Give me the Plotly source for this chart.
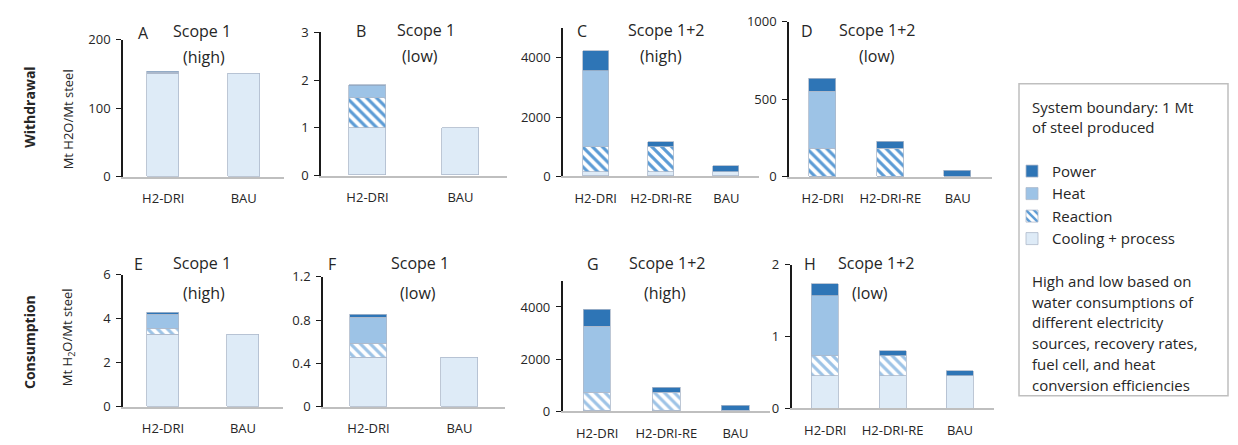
import plotly.graph_objects as go

W, H = 1238, 445

# ---------------- data ----------------
cats2 = ["H2-DRI", "BAU"]
cats3 = ["H2-DRI", "H2-DRI-RE", "BAU"]

# Withdrawal (Mt H2O / Mt steel)
A_cooling = [150.5, 150.5]; A_reaction = [0.6, 0]; A_heat = [1.2, 0]; A_power = [0.6, 0]
B_cooling = [1.0, 1.0];     B_reaction = [0.61, 0]; B_heat = [0.25, 0]; B_power = [0.03, 0]
C_cooling = [150, 150, 150]; C_reaction = [820, 820, 0]; C_heat = [2566, 0, 0]; C_power = [700, 170, 175]
D_cooling = [1, 1, 1];       D_reaction = [183, 183, 0]; D_heat = [366, 0, 0]; D_power = [85, 45, 40]
# Consumption
E_cooling = [3.29, 3.29];   E_reaction = [0.28, 0]; E_heat = [0.62, 0]; E_power = [0.09, 0]
F_cooling = [0.45, 0.455];  F_reaction = [0.13, 0]; F_heat = [0.245, 0]; F_power = [0.028, 0]
G_cooling = [3.3, 3.3, 3.3]; G_reaction = [709, 709, 0]; G_heat = [2509, 0, 0]; G_power = [676, 185, 193]
H_cooling = [0.45, 0.45, 0.45]; H_reaction = [0.276, 0.277, 0]; H_heat = [0.846, 0, 0]; H_power = [0.161, 0.08, 0.076]

series_names = ["Cooling + process", "Reaction", "Heat", "Power"]

panels = [
    ("A", "Scope 1", "(high)", cats2, [A_cooling, A_reaction, A_heat, A_power]),
    ("B", "Scope 1", "(low)", cats2, [B_cooling, B_reaction, B_heat, B_power]),
    ("C", "Scope 1+2", "(high)", cats3, [C_cooling, C_reaction, C_heat, C_power]),
    ("D", "Scope 1+2", "(low)", cats3, [D_cooling, D_reaction, D_heat, D_power]),
    ("E", "Scope 1", "(high)", cats2, [E_cooling, E_reaction, E_heat, E_power]),
    ("F", "Scope 1", "(low)", cats2, [F_cooling, F_reaction, F_heat, F_power]),
    ("G", "Scope 1+2", "(high)", cats3, [G_cooling, G_reaction, G_heat, G_power]),
    ("H", "Scope 1+2", "(low)", cats3, [H_cooling, H_reaction, H_heat, H_power]),
]

y_ranges = [[0, 200], [0, 3], [0, 5000], [0, 1000], [0, 6], [0, 1.2], [0, 5000], [0, 2]]
y_ticks = [[0, 100, 200], [0, 1, 2, 3], [0, 2000, 4000], [0, 500, 1000],
           [0, 2, 4, 6], [0, 0.4, 0.8, 1.2], [0, 2000, 4000], [0, 1, 2]]

# ---------------- layout geometry (pixels) ----------------
# x0, x1, ytop, ybottom
boxes = [
    (123, 284, 32, 175),
    (321, 507, 24.3, 173.7),
    (563, 759, 20, 174.3),
    (789, 991.5, 13.3, 175),
    (123, 283, 276.7, 414.7),
    (323, 505, 279, 414.7),
    (562.6, 770, 283.3, 419.3),
    (791.5, 993.7, 266.7, 416.3),
]
# (letter x, letter y, title x, title y, sub x, sub y)
title_pos = [
    (143, 25, 202, 23, 204, 50),
    (361, 23, 426, 22, 420, 49),
    (582, 23, 666, 22, 661, 49),
    (807, 23, 877, 22, 877, 49),
    (138, 266, 202, 265, 204, 296),
    (332, 266, 420, 265, 418, 296),
    (593, 266, 667, 265, 665, 296),
    (810, 266, 876, 265, 870, 296),
]

C_POWER = "#2e75b6"
C_HEAT = "#9dc3e6"
C_COOL = "#deebf7"
EDGE = "#adb9ca"
FONT = "Open Sans"
TXT = "#262626"

def px(x):
    return x / W

def py(y):
    return 1 - y / H

def nz(vals):
    return [v if v else None for v in vals]

fig = go.Figure()

for i, (letter, t1, t2, cats, stacks) in enumerate(panels):
    k = i + 1
    stripe = "#5b9bd5" if i < 4 else "#9dc3e6"
    styles = [
        dict(color=C_COOL),
        dict(color="white", pattern=dict(shape="\\", fgcolor=stripe, bgcolor="white",
                                          size=7, solidity=0.45, fillmode="replace")),
        dict(color=C_HEAT),
        dict(color=C_POWER),
    ]
    for name, vals, st in zip(series_names, stacks, styles):
        marker = dict(st)
        marker["line"] = dict(color=EDGE, width=0.8)
        fig.add_trace(go.Bar(
            x=cats, y=nz(vals), name=name, width=0.4,
            marker=marker, xaxis=f"x{k}", yaxis=f"y{k}",
            showlegend=(i == 0), legendgroup=name,
            hoverinfo="x+y+name",
        ))

    x0, x1, yt, yb = boxes[i]
    fig.layout[f"xaxis{k}"] = dict(
        domain=[px(x0), px(x1)], anchor=f"y{k}", range=[-0.5, len(cats) - 0.5],
        showline=True, linecolor="#bfbfbf", linewidth=1.5, ticks="",
        showgrid=False, zeroline=False, fixedrange=True,
        tickfont=dict(family=FONT, size=13, color=TXT), ticklabelstandoff=9,
    )
    fig.layout[f"yaxis{k}"] = dict(
        domain=[py(yb), py(yt)], anchor=f"x{k}", range=y_ranges[i],
        tickvals=y_ticks[i], showline=True, linecolor="#1a1a1a", linewidth=1.5,
        ticks="outside", ticklen=5, tickcolor="#1a1a1a", tickwidth=1,
        showgrid=False, zeroline=False, fixedrange=True,
        tickfont=dict(family=FONT, size=13, color=TXT), ticklabelstandoff=3,
    )

    lx, ly, tx, ty, sx, sy = title_pos[i]
    for text, xx, yy in [(letter, lx, ly), (t1, tx, ty), (t2, sx, sy)]:
        fig.add_annotation(text=text, x=px(xx), y=py(yy), xref="paper", yref="paper",
                           xanchor="center", yanchor="middle", showarrow=False,
                           font=dict(family=FONT, size=16, color=TXT))

# row labels
row_labels = [
    ("<b>Withdrawal</b>", 30, 103, 14),
    ("Mt H2O/Mt steel", 68, 115, 13),
    ("<b>Consumption</b>", 30, 347, 14),
    ("Mt H<sub>2</sub>O/Mt steel", 68, 342, 13),
]
for text, xx, yy, fs in row_labels:
    fig.add_annotation(text=text, x=px(xx), y=py(yy), xref="paper", yref="paper",
                       xanchor="center", yanchor="middle", showarrow=False, textangle=-90,
                       font=dict(family=FONT, size=fs, color=TXT))

# side box
fig.add_shape(type="rect", xref="paper", yref="paper",
              x0=px(1019), x1=px(1228), y0=py(403), y1=py(78),
              line=dict(color="#bfbfbf", width=1.5), fillcolor="rgba(0,0,0,0)")

box_lines_top = ["System boundary: 1 Mt", "of steel produced"]
box_lines_bottom = ["High and low based on", "water consumptions of",
                    "different electricity", "sources, recovery rates,",
                    "fuel cell, and heat", "conversion efficiencies"]
for j, t in enumerate(box_lines_top):
    fig.add_annotation(text=t, x=px(1030), y=py(101.7 + 21.5 * j), xref="paper", yref="paper",
                       xanchor="left", yanchor="middle", showarrow=False,
                       font=dict(family=FONT, size=15, color=TXT))
for j, t in enumerate(box_lines_bottom):
    fig.add_annotation(text=t, x=px(1030), y=py(283.3 + 21.7 * j), xref="paper", yref="paper",
                       xanchor="left", yanchor="middle", showarrow=False,
                       font=dict(family=FONT, size=15, color=TXT))

fig.update_layout(
    width=W, height=H, margin=dict(l=0, r=0, t=0, b=0),
    paper_bgcolor="white", plot_bgcolor="white",
    barmode="stack", bargap=0,
    font=dict(family=FONT, size=12, color=TXT),
    legend=dict(x=px(1012), y=py(152), xanchor="left", yanchor="top",
                traceorder="reversed", font=dict(family=FONT, size=15, color=TXT),
                bgcolor="rgba(0,0,0,0)", itemwidth=30, tracegroupgap=0),
)

fig.write_html("out.html", config={"displayModeBar": False},
               post_script="document.body.style.margin='0';document.body.style.overflow='hidden';")
